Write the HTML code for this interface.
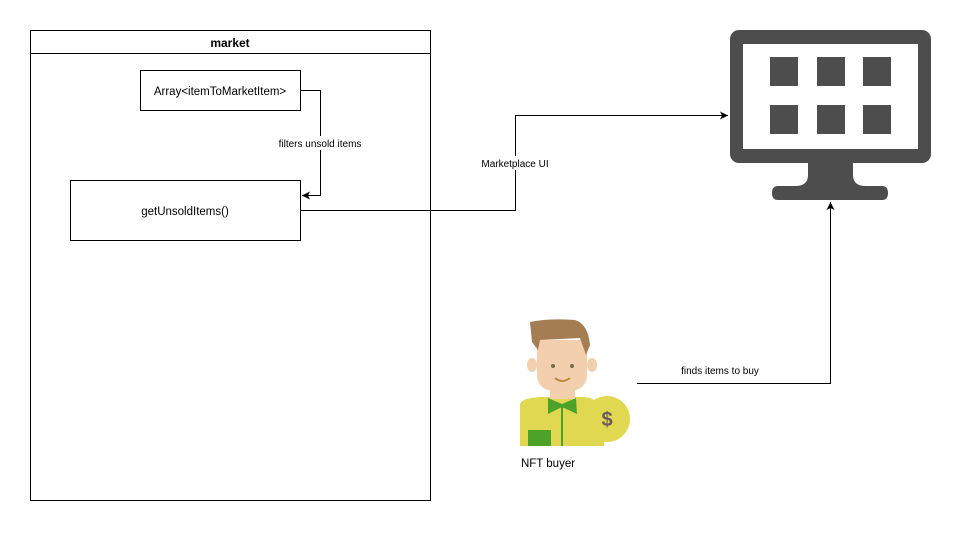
<!DOCTYPE html>
<html><head><meta charset="utf-8"><style>
html,body{margin:0;padding:0;background:#fff;}
body{width:961px;height:531px;overflow:hidden;}
text{font-family:"Liberation Sans",Helvetica,Arial,sans-serif;}
</style></head><body>
<svg width="961" height="531" viewBox="0 0 961 531" xmlns="http://www.w3.org/2000/svg">
<defs>
<marker id="ar" markerWidth="10" markerHeight="10" refX="8" refY="5" orient="auto" markerUnits="userSpaceOnUse">
<path d="M0,1 L8,5 L0,9 L2,5 Z" fill="#000"/>
</marker>
</defs>
<!-- market container -->
<rect x="30.5" y="30.5" width="400" height="470" fill="#fff" stroke="#000"/>
<line x1="30.5" y1="53.5" x2="430.5" y2="53.5" stroke="#000"/>
<text x="230" y="47" font-size="12" font-weight="bold" text-anchor="middle">market</text>
<rect x="140.5" y="70.5" width="160" height="40" fill="#fff" stroke="#000"/>
<text x="220" y="95" font-size="11.5" text-anchor="middle">Array&lt;itemToMarketItem&gt;</text>
<rect x="70.5" y="180.5" width="230" height="60" fill="#fff" stroke="#000"/>
<text x="185" y="215" font-size="11.5" text-anchor="middle">getUnsoldItems()</text>
<!-- filter connector -->
<polyline points="300.5,90.5 320.5,90.5 320.5,195.5 302,195.5" fill="none" stroke="#000" marker-end="url(#ar)"/>
<rect x="272" y="136" width="96" height="14" fill="#fff"/>
<text x="320" y="147" font-size="10" text-anchor="middle">filters unsold items</text>
<!-- marketplace UI connector -->
<polyline points="300.5,210.5 515.5,210.5 515.5,115.5 728,115.5" fill="none" stroke="#000" marker-end="url(#ar)"/>
<rect x="474" y="156" width="82" height="14" fill="#fff"/>
<text x="515" y="167" font-size="10" text-anchor="middle">Marketplace UI</text>
<!-- buyer connector -->
<polyline points="637,383.5 830.5,383.5 830.5,202" fill="none" stroke="#000" marker-end="url(#ar)"/>
<text x="720" y="374" font-size="10" text-anchor="middle">finds items to buy</text>
<!-- monitor -->
<rect x="730" y="30" width="201" height="133" rx="9" fill="#4d4d4d"/>
<rect x="743" y="44" width="175" height="105" fill="#fff"/>
<g fill="#4d4d4d">
<rect x="770" y="57" width="28" height="29"/><rect x="817" y="57" width="28" height="29"/><rect x="863" y="57" width="28" height="29"/>
<rect x="770" y="105" width="28" height="29"/><rect x="817" y="105" width="28" height="29"/><rect x="863" y="105" width="28" height="29"/>
<path d="M808,162 L853,162 L853,175 Q853,186 866,186 L882,186 Q888,186 888,193 Q888,200 882,200 L778,200 Q772,200 772,193 Q772,186 778,186 L795,186 Q808,186 808,175 Z"/>
</g>
<!-- NFT buyer -->
<circle cx="607" cy="419" r="23" fill="#e1d851"/>
<path d="M520,404 Q522,398 540,397 L585,397 Q600,399 603,412 L604,446 L520,446 Z" fill="#e1d851"/>
<rect x="528" y="430" width="23" height="16" fill="#4da22a"/>
<line x1="562" y1="405" x2="562" y2="446" stroke="#4da22a" stroke-width="2"/>
<path d="M548,398 L562,404 L576,398 L577,414 L562,407 L548,414 Z" fill="#4da22a"/>
<rect x="550" y="385" width="25" height="14" fill="#f3cfae"/>
<ellipse cx="532" cy="365" rx="5" ry="7" fill="#f3cfae"/>
<ellipse cx="592" cy="365" rx="5" ry="7" fill="#f3cfae"/>
<path d="M537,340 L587,340 L587,375 Q587,392 562,392 Q537,392 537,375 Z" fill="#f3cfae"/>
<path d="M530,322 Q548,318 575,320 Q588,324 590,345 L586,355 L580,338 L540,340 L538,350 L532,342 Z" fill="#a47e52"/>
<circle cx="553" cy="366" r="2" fill="#7c6a4a"/><circle cx="572" cy="366" r="2" fill="#7c6a4a"/>
<path d="M555,378 Q562,384 570,378" fill="none" stroke="#b88a40" stroke-width="2"/>
<text x="607" y="426" font-size="20" font-weight="bold" text-anchor="middle" fill="#6b5a5a">$</text>
<text x="548" y="467" font-size="11.5" text-anchor="middle">NFT buyer</text>
</svg>
</body></html>
